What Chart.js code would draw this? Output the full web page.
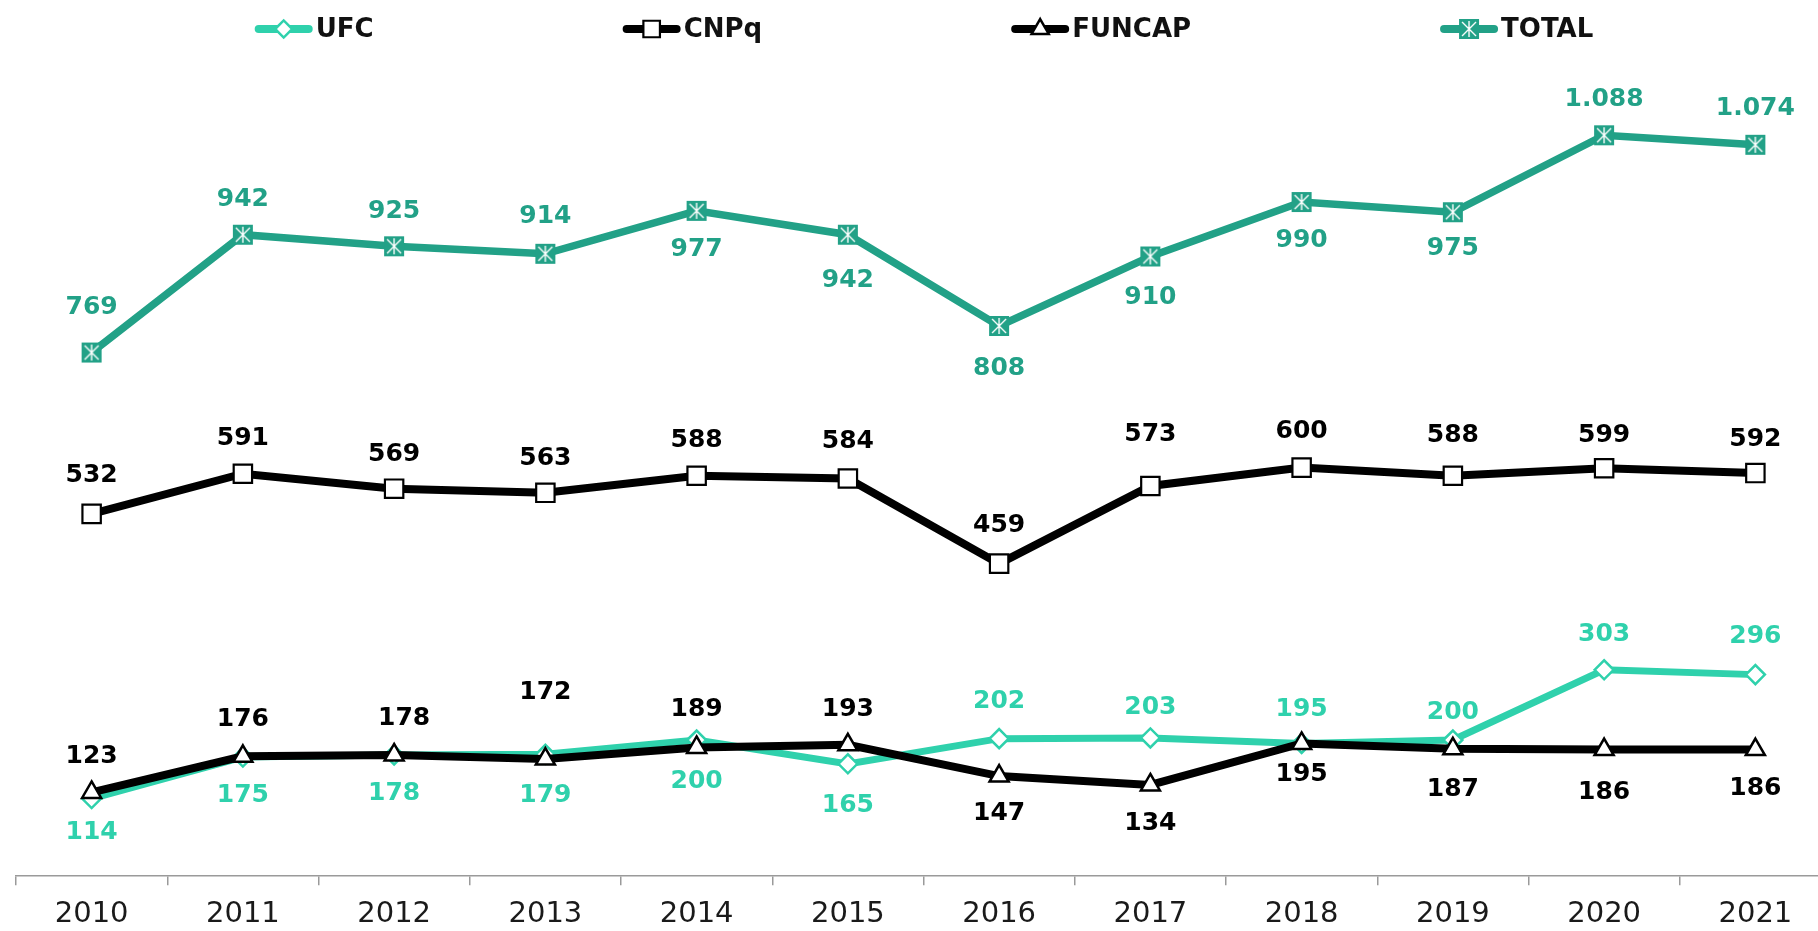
<!DOCTYPE html>
<html lang="pt-BR">
<head>
<meta charset="utf-8">
<title>Bolsas por agência</title>
<script src="https://cdn.jsdelivr.net/npm/chart.js@4.4.0/dist/chart.umd.min.js"></script>
<style>
    html, body { margin: 0; padding: 0; background: #fff; overflow: hidden; }
    canvas { display: block; }
</style>
</head>
<body>
<canvas id="grafico-bolsas" width="1848" height="944"></canvas>
<script>
// Anos (eixo X)
const anos = ['2010', '2011', '2012', '2013', '2014', '2015', '2016', '2017', '2018', '2019', '2020', '2021'];

// Valores de cada série
const ufc = [114, 175, 178, 179, 200, 165, 202, 203, 195, 200, 303, 296];
const cnpq = [532, 591, 569, 563, 588, 584, 459, 573, 600, 588, 599, 592];
const funcap = [123, 176, 178, 172, 189, 193, 147, 134, 195, 187, 186, 186];
const total = [769, 942, 925, 914, 977, 942, 808, 910, 990, 975, 1088, 1074];

// Deslocamento vertical dos rótulos em px (negativo = acima do ponto)
const dyUfc = [34, 38, 39, 41, 41, 42, -37, -30, -34, -28, -35, -38];
const dyCnpq = [-38, -35, -34, -34, -35, -37, -38, -51, -36, -40, -33, -34];
const dyFuncap = [-36, -37, -36, -67, -38, -35, 37, 39, 31, 41, 43, 39];
const dyTotal = [-45, -35, -35, -37, 39, 46, 43, 41, 38, 36, -36, -36];
const dxFuncap = [0, 0, 10, 0, 0, 0, 0, 0, 0, 0, 0, 0];

// Cores
const corUfc = '#2fd1ac';
const corTotal = '#22a187';
const corPreto = '#000000';

// Marcador do TOTAL: quadrado verde com asterisco branco
function marcadorTotal() {
    const c = document.createElement('canvas');
    c.width = 22;
    c.height = 22;
    const g = c.getContext('2d');
    g.fillStyle = corTotal;
    g.fillRect(1, 1, 20, 20);
    g.strokeStyle = '#ffffff';
    g.lineWidth = 1.4;
    g.beginPath();
    g.moveTo(4, 4); g.lineTo(18, 18);
    g.moveTo(18, 4); g.lineTo(4, 18);
    g.moveTo(11, 3); g.lineTo(11, 19);
    g.stroke();
    return c;
}

// Formato brasileiro: 1088 -> 1.088
function formatar(v) {
    if (v >= 1000) {
        return Math.floor(v / 1000) + '.' + String(v % 1000).padStart(3, '0');
    }
    return String(v);
}

// Rótulos de valor sobre os pontos
const rotulos = {
    id: 'rotulos',
    afterDatasetsDraw(chart) {
        const ctx = chart.ctx;
        ctx.save();
        ctx.font = 'bold 25px "DejaVu Sans"';
        ctx.textAlign = 'center';
        ctx.textBaseline = 'middle';
        chart.data.datasets.forEach((d, i) => {
            const meta = chart.getDatasetMeta(i);
            ctx.fillStyle = d.corRotulo;
            meta.data.forEach((pt, j) => {
                const dx = d.dxRotulo ? d.dxRotulo[j] : 0;
                ctx.fillText(formatar(d.data[j]), pt.x + dx, pt.y + d.dyRotulo[j]);
            });
        });
        ctx.restore();
    }
};

// Legenda no estilo linha + marcador
const legenda = {
    id: 'legenda',
    afterDraw(chart) {
        const ctx = chart.ctx;
        const itens = chart.data.datasets;
        const linha = 58, gap = 3, espaco = 249, y = 29;
        ctx.save();
        ctx.font = 'bold 26px "DejaVu Sans"';
        const larguras = itens.map(d => ctx.measureText(d.label).width);
        const largura = larguras.reduce((s, w) => s + linha + gap + w, 0) + espaco * (itens.length - 1);
        let x = chart.width / 2 - largura / 2;
        itens.forEach((d, i) => {
            ctx.strokeStyle = d.borderColor;
            ctx.lineWidth = 8;
            ctx.lineCap = 'round';
            ctx.beginPath();
            ctx.moveTo(x + 4, y);
            ctx.lineTo(x + linha - 4, y);
            ctx.stroke();
            ctx.fillStyle = d.pointBackgroundColor;
            ctx.strokeStyle = d.pointBorderColor;
            ctx.lineWidth = d.pointBorderWidth;
            Chart.helpers.drawPoint(ctx, {
                pointStyle: d.pointStyle,
                radius: d.pointRadius * 0.9,
                borderWidth: d.pointBorderWidth,
                rotation: 0
            }, x + linha / 2, y);
            ctx.fillStyle = '#111111';
            ctx.textAlign = 'left';
            ctx.textBaseline = 'middle';
            ctx.fillText(d.label, x + linha + gap, y + 1);
            x += linha + gap + larguras[i] + espaco;
        });
        ctx.restore();
    }
};

const ctx = document.getElementById('grafico-bolsas');

new Chart(ctx, {
    type: 'line',
    data: {
        labels: anos,
        datasets: [
            {
                label: 'UFC',
                data: ufc,
                order: 2,
                borderColor: corUfc,
                borderWidth: 7,
                pointStyle: 'rectRot',
                pointRadius: 9.5,
                pointBackgroundColor: '#ffffff',
                pointBorderColor: corUfc,
                pointBorderWidth: 2.5,
                corRotulo: corUfc,
                dyRotulo: dyUfc
            },
            {
                label: 'CNPq',
                data: cnpq,
                order: 1,
                borderColor: corPreto,
                borderWidth: 8,
                pointStyle: 'rect',
                pointRadius: 13,
                pointBackgroundColor: '#ffffff',
                pointBorderColor: corPreto,
                pointBorderWidth: 2.2,
                corRotulo: corPreto,
                dyRotulo: dyCnpq
            },
            {
                label: 'FUNCAP',
                data: funcap,
                order: 0,
                borderColor: corPreto,
                borderWidth: 8,
                pointStyle: 'triangle',
                pointRadius: 11,
                pointBackgroundColor: '#ffffff',
                pointBorderColor: corPreto,
                pointBorderWidth: 2.5,
                corRotulo: corPreto,
                dyRotulo: dyFuncap,
                dxRotulo: dxFuncap
            },
            {
                label: 'TOTAL',
                data: total,
                order: 1,
                borderColor: corTotal,
                borderWidth: 7.5,
                pointStyle: marcadorTotal(),
                pointRadius: 10,
                pointBackgroundColor: corTotal,
                pointBorderColor: corTotal,
                pointBorderWidth: 0,
                corRotulo: corTotal,
                dyRotulo: dyTotal
            }
        ]
    },
    options: {
        responsive: false,
        devicePixelRatio: 1,
        animation: false,
        events: [],
        layout: {
            padding: { top: 59, left: 16, right: 17, bottom: 0 }
        },
        elements: {
            line: { tension: 0 }
        },
        plugins: {
            legend: { display: false },
            tooltip: { enabled: false }
        },
        scales: {
            x: {
                offset: true,
                grid: {
                    offset: true,
                    drawOnChartArea: false,
                    drawTicks: true,
                    tickLength: 9,
                    color: '#9a9a9a',
                    lineWidth: 1.5
                },
                border: { display: true, color: '#9a9a9a', width: 1.5 },
                ticks: {
                    color: '#1a1a1a',
                    font: { family: 'DejaVu Sans', size: 29 },
                    padding: 12,
                    maxRotation: 0,
                    autoSkip: false
                }
            },
            y: {
                display: false,
                min: 0,
                max: 1200
            }
        }
    },
    plugins: [rotulos, legenda]
});
</script>
</body>
</html>
